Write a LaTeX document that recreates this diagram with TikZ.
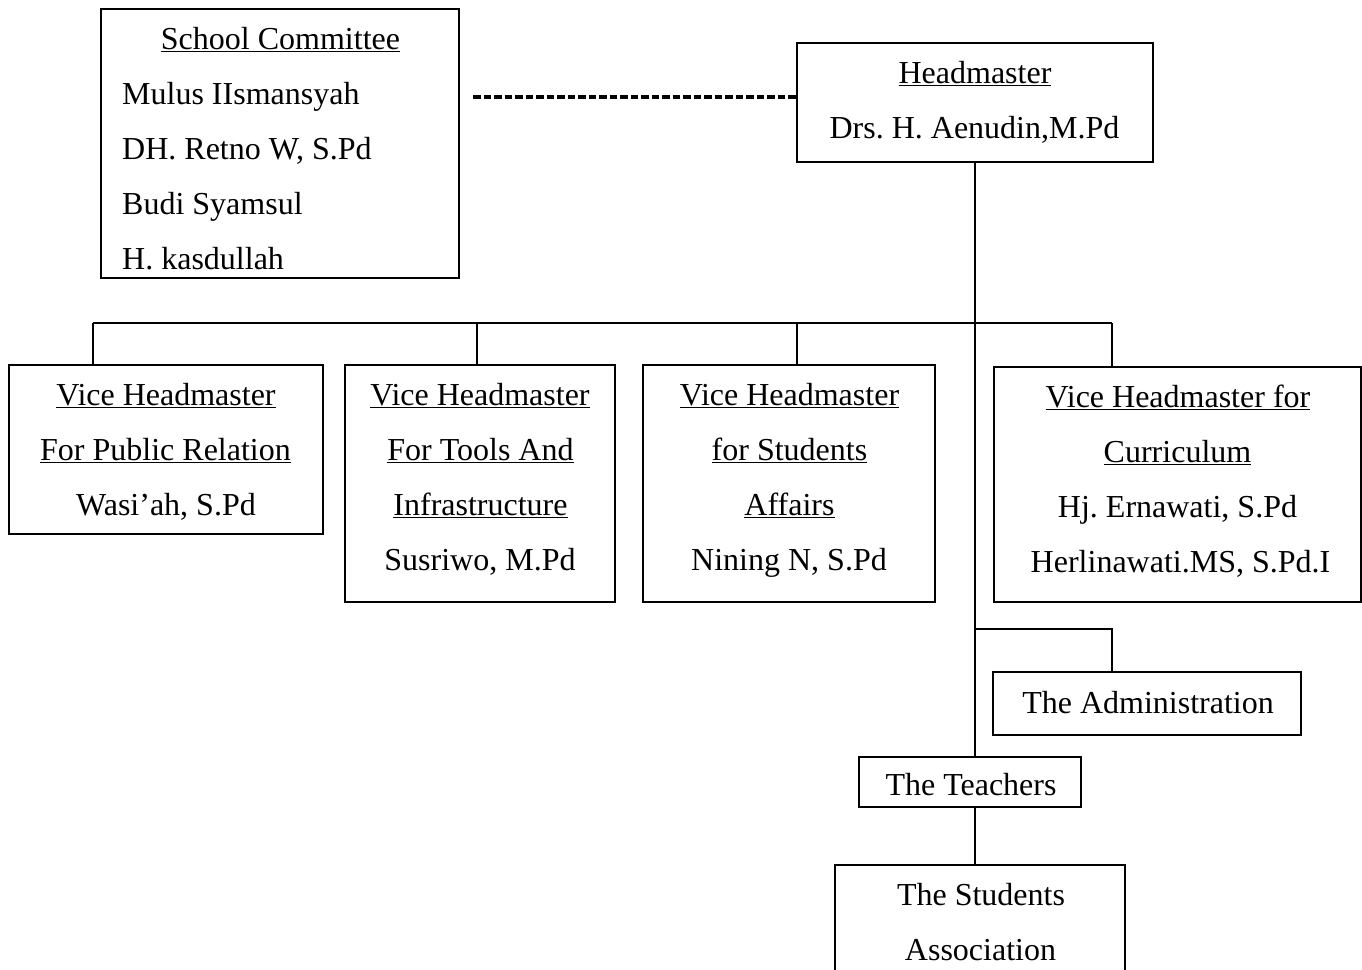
\documentclass[tikz,border=0pt]{standalone}
\usepackage{fontspec}
\setmainfont{Liberation Serif}
\frenchspacing
\begin{document}
\frenchspacing
\begin{tikzpicture}[x=1pt,y=-1pt,
  box/.style={draw, line width=2pt, inner sep=0pt, fill=none},
  txt/.style={anchor=base, inner sep=0pt, font=\fontsize{32}{38}\selectfont},
  ltxt/.style={txt, anchor=base west},
  conn/.style={line width=1.8pt},
  dashline/.style={line width=3.5pt, dash pattern=on 7.5pt off 3pt}]
\useasboundingbox (0,0) rectangle (1362,969);
% boxes
\node[box, minimum width=358, minimum height=269] (comm) at (280,143.5) {};
\node[box, minimum width=356, minimum height=119] (hm) at (975,102.5) {};
\node[box, minimum width=314, minimum height=169] (vh1) at (166,449.5) {};
\node[box, minimum width=270, minimum height=237] (vh2) at (480,483.5) {};
\node[box, minimum width=292, minimum height=237] (vh3) at (789,483.5) {};
\node[box, minimum width=367, minimum height=235] (vh4) at (1177,484.5) {};
\node[box, minimum width=308, minimum height=63] (admin) at (1147,703.5) {};
\node[box, minimum width=222, minimum height=50] (teach) at (970,782) {};
\node[box, minimum width=290, minimum height=135] (stud) at (980,932.5) {};
% committee texts
\node[txt] (commT) at (280.5,49) {\underline{School Committee}};
\node[ltxt] (comm1) at (122,104) {Mulus IIsmansyah};
\node[ltxt] (comm2) at (122,159) {DH. Retno W, S.Pd};
\node[ltxt] (comm3) at (122,214) {Budi Syamsul};
\node[ltxt] (comm4) at (122,269) {H. kasdullah};
% headmaster
\node[txt] (hmT1) at (975,83) {\underline{Headmaster}};
\node[txt] (hmT2) at (974.5,138) {Drs. H. Aenudin,M.Pd};
% vice 1
\node[txt] (v1a) at (166,405) {\underline{Vice Headmaster}};
\node[txt] (v1b) at (165.5,460) {\underline{For Public Relation}};
\node[txt] (v1c) at (166,515) {Wasi’ah, S.Pd};
% vice 2
\node[txt] (v2a) at (480,405) {\underline{Vice Headmaster}};
\node[txt] (v2b) at (480.5,460) {\underline{For Tools And}};
\node[txt] (v2c) at (480.5,515) {\underline{Infrastructure}};
\node[txt] (v2d) at (480,570) {Susriwo, M.Pd};
% vice 3
\node[txt] (v3a) at (789.5,405) {\underline{Vice Headmaster}};
\node[txt] (v3b) at (789.5,460) {\underline{for Students}};
\node[txt] (v3c) at (789.5,515) {\underline{Affairs}};
\node[txt] (v3d) at (789,570) {Nining N, S.Pd};
% vice 4
\node[txt] (v4a) at (1178,407) {\underline{Vice Headmaster for}};
\node[txt] (v4b) at (1177.5,462) {\underline{Curriculum}};
\node[txt] (v4c) at (1177.5,517) {Hj. Ernawati, S.Pd};
\node[txt] (v4d) at (1180.5,572) {Herlinawati.MS, S.Pd.I};
% others
\node[txt] (adminT) at (1148,713) {The Administration};
\node[txt] (teachT) at (971,795) {The Teachers};
\node[txt] (studT1) at (981,905) {The Students};
\node[txt] (studT2) at (980.5,960) {Association};
% connectors
\coordinate (b1) at (93,323);
\coordinate (b2) at (477,323);
\coordinate (b3) at (797,323);
\coordinate (b4) at (1112,323);
\draw[conn] (b1) -- (b4);
\draw[conn] (b1) -- (b1 |- vh1.north);
\draw[conn] (b2) -- (b2 |- vh2.north);
\draw[conn] (b3) -- (b3 |- vh3.north);
\draw[conn] (b4) -- (b4 |- vh4.north);
\draw[conn] (hm.south) -- (hm.south |- teach.north);
\coordinate (a1) at (975,629);
\coordinate (a2) at (1112,629);
\draw[conn] (a1) -- (a2) -- (a2 |- admin.north);
\draw[conn] (hm.south |- teach.south) -- (hm.south |- stud.north);
\coordinate (dstart) at (473,97);
\draw[dashline] (dstart) -- (dstart -| hm.west);
\end{tikzpicture}
\end{document}
